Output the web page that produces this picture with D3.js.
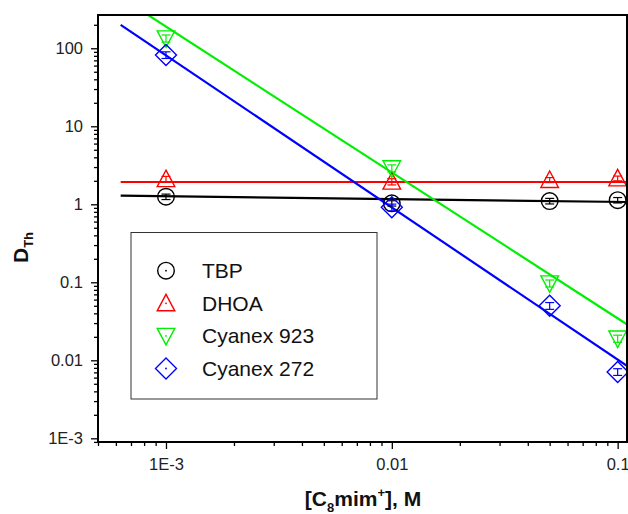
<!DOCTYPE html>
<html>
<head>
<meta charset="utf-8">
<script src="https://cdn.jsdelivr.net/npm/d3@7"></script>
<style>
  html, body { margin: 0; padding: 0; background: #fff; }
  svg { display: block; font-family: Arial, "Liberation Sans", sans-serif; }
</style>
</head>
<body>
<svg id="chart" width="628" height="514"></svg>
<script>
// Thorium distribution ratio vs. ionic liquid cation concentration
const conc = [0.001, 0.01, 0.05, 0.1];

const seriesNames = ["TBP", "DHOA", "Cyanex 923", "Cyanex 272"];
const seriesColors = ["#000000", "#ff0000", "#00ee00", "#0000ff"];
const seriesShapes = ["circle", "triangleUp", "triangleDown", "diamond"];

const tbpD = [1.25, 1.03, 1.10, 1.13];
const dhoaD = [2.1, 1.95, 2.05, 2.15];
const cy923D = [134, 2.9, 0.097, 0.019];
const cy272D = [82, 0.915, 0.05, 0.0071];

const tbpErr = [0.1, 0.08, 0.09, 0.09];
const dhoaErr = [0.18, 0.18, 0.15, 0.15];
const cy923Err = [14, 0.3, 0.01, 0.002];
const cy272Err = [8, 0.09, 0.005, 0.0007];

// linear fits: log10 D = intercept + slope * log10 [C8mim+]
const fitSlope = [-0.036, 0, -1.87, -1.95];
const fitIntercept = [-0.0053, 0.2856, -3.332, -3.941];
const fitRange = [6.3e-4, 0.12];

const xTickValues = [0.001, 0.01, 0.1];
const xTickLabels = ["1E-3", "0.01", "0.1"];
const yTickValues = [0.001, 0.01, 0.1, 1, 10, 100];
const yTickLabels = ["1E-3", "0.01", "0.1", "1", "10", "100"];

const values = [tbpD, dhoaD, cy923D, cy272D];
const errors = [tbpErr, dhoaErr, cy923Err, cy272Err];

const svg = d3.select("#chart");
const plotL = 98, plotR = 627, plotT = 15, plotB = 442;

const x = d3.scaleLog().domain([5e-4, 0.11]).range([plotL, plotR]);
const y = d3.scaleLog().domain([8.97e-4, 267]).range([plotB, plotT]);

svg.append("defs").append("clipPath").attr("id", "plotClip")
  .append("rect").attr("x", plotL).attr("y", plotT)
  .attr("width", plotR - plotL).attr("height", plotB - plotT);

// minor tick positions (2..9 within each decade)
function minorTicks(domain) {
  const out = [];
  for (let e = -5; e <= 3; e++) {
    for (let m = 2; m <= 9; m++) {
      const v = m * Math.pow(10, e);
      if (v >= domain[0] && v <= domain[1]) out.push(v);
    }
  }
  return out;
}

// x axis
const xAxisMajor = d3.axisBottom(x).tickValues(xTickValues)
  .tickFormat((d, i) => xTickLabels[i]).tickSize(7).tickPadding(9);
const xAxisMinor = d3.axisBottom(x).tickValues(minorTicks(x.domain()))
  .tickFormat("").tickSize(4);
const gx = svg.append("g").attr("transform", `translate(0,${plotB})`);
gx.append("g").call(xAxisMinor);
gx.append("g").call(xAxisMajor);

// y axis
const yAxisMajor = d3.axisLeft(y).tickValues(yTickValues)
  .tickFormat((d, i) => yTickLabels[i]).tickSize(7).tickPadding(8);
const yAxisMinor = d3.axisLeft(y).tickValues(minorTicks(y.domain()))
  .tickFormat("").tickSize(4);
const gy = svg.append("g").attr("transform", `translate(${plotL},0)`);
gy.append("g").call(yAxisMinor);
gy.append("g").call(yAxisMajor);

svg.selectAll(".domain").remove();
svg.selectAll(".tick line").attr("stroke", "#000").attr("stroke-width", 1.3);
svg.selectAll(".tick text").attr("font-size", 16.5).attr("fill", "#222");

// fit lines
const fitLine = d3.line().x(d => x(d[0])).y(d => y(d[1]));
const gLines = svg.append("g").attr("clip-path", "url(#plotClip)");
seriesNames.forEach((name, i) => {
  const pts = fitRange.map(c => [c, Math.pow(10, fitIntercept[i] + fitSlope[i] * Math.log10(c))]);
  gLines.append("path").datum(pts).attr("d", fitLine)
    .attr("fill", "none").attr("stroke", seriesColors[i]).attr("stroke-width", 2.2);
});

// marker shapes
function markerPath(shape) {
  switch (shape) {
    case "circle": return "M8.3,0A8.3,8.3 0 1,1 -8.3,0A8.3,8.3 0 1,1 8.3,0Z";
    case "triangleUp": return "M0,-9L8.8,7.5L-8.8,7.5Z";
    case "triangleDown": return "M0,9L8.8,-7.5L-8.8,-7.5Z";
    case "diamond": return "M0,-10.5L10.5,0L0,10.5L-10.5,0Z";
  }
}

// data points with error bars
const gPts = svg.append("g");
seriesNames.forEach((name, i) => {
  const g = gPts.append("g").attr("stroke", seriesColors[i]).attr("fill", "none").attr("stroke-width", 1.2);
  conc.forEach((c, j) => {
    const v = values[i][j], e = errors[i][j];
    const cx = x(c), cy = y(v), yHi = y(v + e), yLo = y(v - e);
    g.append("line").attr("x1", cx).attr("x2", cx).attr("y1", yHi).attr("y2", yLo);
    g.append("line").attr("x1", cx - 4.5).attr("x2", cx + 4.5).attr("y1", yHi).attr("y2", yHi);
    g.append("line").attr("x1", cx - 4.5).attr("x2", cx + 4.5).attr("y1", yLo).attr("y2", yLo);
    g.append("path").attr("d", markerPath(seriesShapes[i]))
      .attr("transform", `translate(${cx},${cy})`).attr("stroke-width", 1.4);
  });
});

// frame
svg.append("rect").attr("x", plotL).attr("y", plotT)
  .attr("width", plotR - plotL).attr("height", plotB - plotT)
  .attr("fill", "none").attr("stroke", "#000").attr("stroke-width", 2);

// legend
const legend = svg.append("g");
legend.append("rect").attr("x", 131).attr("y", 232.5).attr("width", 246).attr("height", 166.5)
  .attr("fill", "#fff").attr("stroke", "#333").attr("stroke-width", 1);
seriesNames.forEach((name, i) => {
  const ly = 270.7 + i * 32.6;
  legend.append("path").attr("d", markerPath(seriesShapes[i]))
    .attr("transform", `translate(166,${ly})`)
    .attr("fill", "none").attr("stroke", seriesColors[i]).attr("stroke-width", 1.4);
  legend.append("circle").attr("cx", 166).attr("cy", ly).attr("r", 0.9).attr("fill", seriesColors[i]);
  legend.append("text").attr("x", 202).attr("y", ly).attr("dy", "0.36em")
    .attr("font-size", 21).attr("fill", "#111").text(name);
});

// axis titles
const xt = svg.append("text").attr("x", 363).attr("y", 506)
  .attr("text-anchor", "middle").attr("font-size", 21).attr("font-weight", "bold").attr("fill", "#111");
xt.append("tspan").text("[C");
xt.append("tspan").attr("font-size", 13).attr("dy", 6).text("8");
xt.append("tspan").attr("dy", -6).text("mim");
xt.append("tspan").attr("font-size", 13).attr("dy", -9).text("+");
xt.append("tspan").attr("dy", 9).text("], M");

const yt = svg.append("text").attr("transform", "translate(28,263) rotate(-90)")
  .attr("font-size", 21).attr("font-weight", "bold").attr("fill", "#111");
yt.append("tspan").text("D");
yt.append("tspan").attr("font-size", 13).attr("dy", 5).text("Th");
</script>
</body>
</html>
